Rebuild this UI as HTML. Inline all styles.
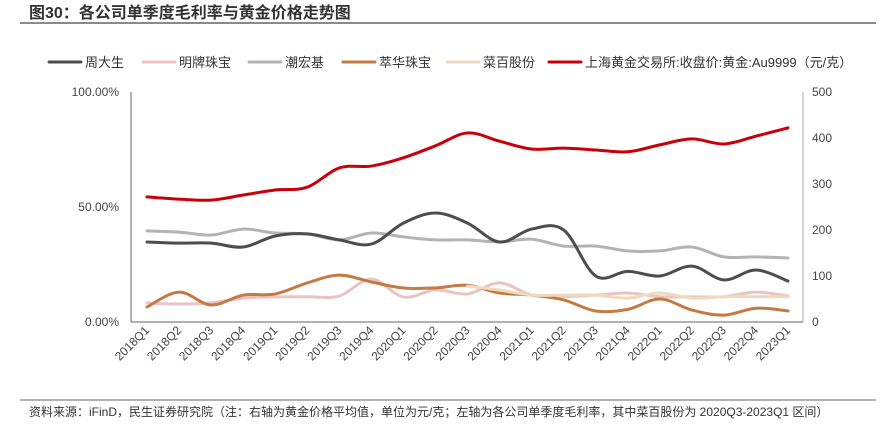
<!DOCTYPE html>
<html><head><meta charset="utf-8">
<style>
body{margin:0;background:#fff;width:896px;height:428px;overflow:hidden;font-family:"Liberation Sans","Noto Sans CJK SC",sans-serif;}
svg text{font-family:"Liberation Sans","Noto Sans CJK SC",sans-serif;}
</style></head>
<body>
<svg id="chart" width="896" height="428" xmlns="http://www.w3.org/2000/svg">
<text x="29" y="18" font-size="16" font-weight="bold" fill="#333">图30：各公司单季度毛利率与黄金价格走势图</text>
<line x1="20" y1="23" x2="876" y2="23" stroke="#444" stroke-width="1.2"/>
<g id="legend"></g>
<g id="axes"></g>
<g id="series"></g>
<line x1="20" y1="400" x2="876" y2="400" stroke="#666" stroke-width="1"/>
<text x="29" y="416" font-size="12" fill="#333">资料来源：iFinD，民生证券研究院（注：右轴为黄金价格平均值，单位为元/克；左轴为各公司单季度毛利率，其中菜百股份为 2020Q3-2023Q1 区间）</text>
</svg>
<script>
const categories=["2018Q1","2018Q2","2018Q3","2018Q4","2019Q1","2019Q2","2019Q3","2019Q4","2020Q1","2020Q2","2020Q3","2020Q4","2021Q1","2021Q2","2021Q3","2021Q4","2022Q1","2022Q2","2022Q3","2022Q4","2023Q1"];
const zhoudasheng=[34.8,34.3,34.3,32.6,37.4,38.3,35.7,33.9,43,47.4,43,34.8,40.4,40,20,22,20,24.3,18.3,22.6,17.8];
const mingpai=[8.3,7.8,8.3,10.4,10.9,11,11.3,18.7,10.9,13.9,12.2,17,11.7,11,11.7,12.6,11,11,11,13,11.3];
const chaohongji=[39.6,39.1,37.8,40.4,38.7,38.3,35.7,38.7,37,35.7,35.7,34.8,36,33,33,30.9,30.9,32.6,28.3,28.3,27.8];
const cuihua=[6.5,13,7.4,11.7,12.2,17,20.4,17.4,14.8,14.8,16,12.6,11.7,9.6,4.8,5.5,10,5.2,3,6,4.8];
const caibai=[null,null,null,null,null,null,null,null,null,null,15.6,13.9,11.7,11.7,11.7,10.4,12.6,10.4,11,11,11];
const goldPrice=[272,267,265,276,287,293,335,339,357,383,411,393,376,378,374,370,385,398,387,404,422];
const leftTicks=["0.00%","50.00%","100.00%"];
const leftTickValues=[0,50,100];
const rightTicks=[0,100,200,300,400,500];

const NS="http://www.w3.org/2000/svg";
const X0=147,X1=788,Y0=322,Y1=92;
const xPos=i=>X0+(X1-X0)*i/(categories.length-1);
const yL=v=>Y0-(Y0-Y1)*v/100;
const yR=v=>Y0-(Y0-Y1)*v/500;
function mk(tag,attrs,parent){const e=document.createElementNS(NS,tag);for(const k in attrs)e.setAttribute(k,attrs[k]);parent.appendChild(e);return e;}
const axes=document.getElementById('axes');
let l=mk('line',{x1:131,y1:Y1,x2:131,y2:Y0,stroke:'#666','stroke-width':1},axes);


l=mk('line',{x1:131,y1:Y0,x2:803,y2:Y0,stroke:'#666','stroke-width':1},axes);


l=mk('line',{x1:803,y1:Y1,x2:803,y2:Y0,stroke:'#aaa','stroke-width':1},axes);


leftTickValues.forEach((v,i)=>{const t=mk('text',{x:119,y:yL(v)+4,'text-anchor':'end','font-size':12,fill:'#444'},axes);t.textContent=leftTicks[i];

});
rightTicks.forEach(v=>{const t=mk('text',{x:812,y:yR(v)+4,'font-size':12,fill:'#444'},axes);t.textContent=v;

});
categories.forEach((c,i)=>{const x=xPos(i)+3,y=331;const t=mk('text',{x:x,y:y,'text-anchor':'end','font-size':12,fill:'#444',transform:`rotate(-45 ${x} ${y})`},axes);t.textContent=c;

});
function smooth(pts){let d=`M${pts[0][0]},${pts[0][1]}`;for(let i=0;i<pts.length-1;i++){const p0=pts[i-1]||pts[i],p1=pts[i],p2=pts[i+1],p3=pts[i+2]||p2;const t=0.17;
d+=` C${p1[0]+(p2[0]-p0[0])*t},${p1[1]+(p2[1]-p0[1])*t} ${p2[0]-(p3[0]-p1[0])*t},${p2[1]-(p3[1]-p1[1])*t} ${p2[0]},${p2[1]}`;}return d;}
const ser=document.getElementById('series');
function draw(vals,yf,color,name){const pts=[];vals.forEach((v,i)=>{if(v!==null)pts.push([xPos(i),yf(v)]);});
const p=mk('path',{d:smooth(pts),fill:'none',stroke:color,'stroke-width':3,'stroke-linecap':'round','stroke-linejoin':'round'},ser);

}
draw(mingpai,yL,'#ecc3c3','series-mingpai');
draw(chaohongji,yL,'#b3b3b3','series-chaohongji');
draw(zhoudasheng,yL,'#4d4d4d','series-zhoudasheng');
draw(cuihua,yL,'#c47a45','series-cuihua');
draw(caibai,yL,'#ecdcbd','series-caibai');
draw(goldPrice,yR,'#c8000a','series-gold-price');
const legend=document.getElementById('legend');
const items=[["周大生","#4d4d4d",49],["明牌珠宝","#ecc3c3",143],["潮宏基","#b3b3b3",249],["萃华珠宝","#c47a45",343],["菜百股份","#ecdcbd",447],["上海黄金交易所:收盘价:黄金:Au9999（元/克）","#c8000a",549]];
items.forEach(it=>{const g=mk('g',{},legend);


mk('line',{x1:it[2],y1:62,x2:it[2]+32,y2:62,stroke:it[1],'stroke-width':3,'stroke-linecap':'round'},g);
const t=mk('text',{x:it[2]+36,y:67,'font-size':13,fill:'#333'},g);t.textContent=it[0];});
</script>
</body></html>
